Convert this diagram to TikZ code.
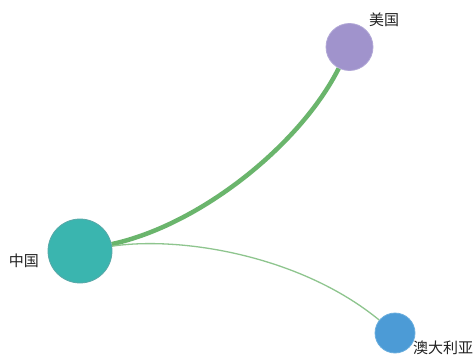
\documentclass[tikz,border=0pt]{standalone}
\usepackage{fontspec}
\newfontfamily\cjk{Noto Sans CJK SC}
\usetikzlibrary{backgrounds}
\definecolor{cnfill}{HTML}{3AB5AF}
\definecolor{cnline}{HTML}{5AA8A8}
\definecolor{usfill}{HTML}{A093CC}
\definecolor{usline}{HTML}{B0A6D6}
\definecolor{aufill}{HTML}{4C9BD6}
\definecolor{auline}{HTML}{6AAEDE}
\definecolor{edgethick}{HTML}{6AB56C}
\definecolor{edgethin}{HTML}{8EC58E}
\definecolor{labeltext}{HTML}{222222}
\tikzset{
  country/.style={circle, inner sep=0pt, line width=0.8pt},
  lbl/.style={font=\cjk\fontsize{15}{15}\selectfont, text=labeltext, inner sep=0pt},
  bigflow/.style={draw=edgethick, line width=4.5pt},
  smallflow/.style={draw=edgethin, line width=1.3pt}
}
\begin{document}
\begin{tikzpicture}[x=1pt,y=-1pt]
\useasboundingbox (0,0) rectangle (475,356);
\node[country, fill=cnfill, draw=cnline, minimum size=64pt] (cn) at (80,251) {};
\node[country, fill=usfill, draw=usline, minimum size=47pt] (us) at (349.5,47) {};
\node[country, fill=aufill, draw=auline, minimum size=40pt] (au) at (395,333) {};
\node[lbl] (cnl) at (24,261) {中国};
\node[lbl] (usl) at (384,20) {美国};
\node[lbl] (aul) at (443,348) {澳大利亚};
\coordinate (c1) at (200,225);
\coordinate (c2) at (300,145);
\coordinate (d1) at (180,236);
\coordinate (d2) at (300,255);
\begin{scope}[on background layer]
\fill[white] (0,0) rectangle (475,356);
\draw[bigflow] (cn) .. controls (c1) and (c2) .. (us);
\draw[smallflow] (cn) .. controls (d1) and (d2) .. (au);
\end{scope}
\end{tikzpicture}
\end{document}
